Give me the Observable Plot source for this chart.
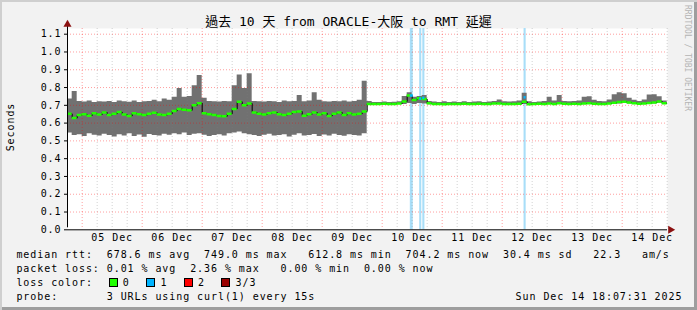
<!DOCTYPE html>
<html>
<head>
<meta charset="utf-8">
<script src="https://cdn.jsdelivr.net/npm/d3@7"></script>
<script src="https://cdn.jsdelivr.net/npm/@observablehq/plot@0.6"></script>
<style>
  html, body { margin: 0; padding: 0; background: #f2f2f2; }
  #chart {
    position: relative; width: 697px; height: 310px; overflow: hidden;
    background: #f2f2f2;
    box-shadow: inset 2px 2px 0 #cfcfcf, inset -3px -3px 0 #9e9e9e;
    font-family: "DejaVu Sans Mono", "Noto Sans CJK TC", monospace;
    color: #000;
  }
  #chart svg { position: absolute; left: 0; top: 0; }
  .txt { position: absolute; white-space: pre; font-size: 10px; letter-spacing: 0.93px; line-height: 14px; }
  #title { position: absolute; left: 0; top: 14px; width: 697px; text-align: center; font-size: 13px; line-height: 15px; white-space: pre; }
  #wm { position: absolute; left: 683px; top: 5px; writing-mode: vertical-rl; font-size: 8px; line-height: 9px; color: #b4b4b4; white-space: pre; }
  #ylab { position: absolute; left: 10px; top: 127px; transform: translate(-50%, -50%) rotate(-90deg); font-size: 10px; letter-spacing: 0.93px; white-space: pre; }
  .box { position: absolute; width: 7px; height: 7px; border: 1px solid #000; }
</style>
</head>
<body>
<div id="chart"></div>
<script>
// ---------- data ----------
const titleText = "過去 10 天 from ORACLE-大阪 to RMT 延遲";
const yAxisTitle = "Seconds";
const watermark = "RRDTOOL / TOBI OETIKER";
const rangeStart = "2025-12-04T18:07:31Z";
const rangeEnd = "2025-12-14T18:07:31Z";
const startTime = "2025-12-04T18:00:00Z";
const stepHours = 2;

// smoke upper edge (seconds), one value per 2-hour step
const smokeTop = [
  0.735, 0.778, 0.722, 0.718, 0.724, 0.716, 0.72, 0.718, 0.722, 0.716,
  0.724, 0.72, 0.717, 0.725, 0.716, 0.72, 0.722, 0.728, 0.72, 0.735,
  0.728, 0.745, 0.795, 0.745, 0.75, 0.81, 0.868, 0.74, 0.722, 0.72,
  0.718, 0.722, 0.72, 0.81, 0.87, 0.795, 0.877, 0.722, 0.72, 0.718,
  0.722, 0.72, 0.716, 0.725, 0.72, 0.722, 0.755, 0.72, 0.724, 0.77,
  0.728, 0.72, 0.718, 0.722, 0.72, 0.725, 0.718, 0.722, 0.728, 0.835,
  0.722, 0.716, 0.716, 0.718, 0.716, 0.717, 0.72, 0.75, 0.77, 0.745,
  0.75, 0.755, 0.722, 0.718, 0.716, 0.72, 0.716, 0.718, 0.716, 0.72,
  0.716, 0.718, 0.72, 0.716, 0.718, 0.722, 0.73, 0.72, 0.718, 0.72,
  0.725, 0.768, 0.72, 0.716, 0.718, 0.722, 0.746, 0.725, 0.755, 0.722,
  0.72, 0.722, 0.725, 0.745, 0.748, 0.728, 0.722, 0.72, 0.73, 0.76,
  0.77, 0.765, 0.74, 0.728, 0.722, 0.73, 0.758, 0.76, 0.748, 0.725
];
// smoke lower edge (seconds)
const smokeBottom = [
  0.545, 0.53, 0.535, 0.525, 0.54, 0.532, 0.528, 0.538, 0.53, 0.522,
  0.535, 0.528, 0.54, 0.525, 0.533, 0.52, 0.536, 0.53, 0.527, 0.538,
  0.532, 0.54, 0.535, 0.545, 0.53, 0.538, 0.54, 0.532, 0.525, 0.53,
  0.535, 0.528, 0.54, 0.545, 0.55, 0.54, 0.535, 0.53, 0.525, 0.532,
  0.538, 0.527, 0.53, 0.535, 0.522, 0.532, 0.54, 0.528, 0.53, 0.536,
  0.525, 0.533, 0.528, 0.537, 0.53, 0.526, 0.535, 0.53, 0.528, 0.54,
  0.70, 0.703, 0.703, 0.703, 0.703, 0.703, 0.704, 0.705, 0.71, 0.705,
  0.71, 0.708, 0.703, 0.703, 0.703, 0.701, 0.703, 0.703, 0.703, 0.703,
  0.703, 0.703, 0.703, 0.703, 0.703, 0.704, 0.704, 0.703, 0.703, 0.703,
  0.703, 0.705, 0.701, 0.703, 0.703, 0.703, 0.704, 0.703, 0.704, 0.703,
  0.703, 0.703, 0.703, 0.704, 0.704, 0.703, 0.703, 0.703, 0.704, 0.706,
  0.708, 0.71, 0.708, 0.705, 0.703, 0.704, 0.706, 0.708, 0.712, 0.705
];
// median rtt (seconds)
const median = [
  0.652, 0.628, 0.645, 0.65, 0.642, 0.655, 0.648, 0.66, 0.645, 0.652,
  0.662, 0.648, 0.64, 0.655, 0.65, 0.645, 0.652, 0.658, 0.648, 0.645,
  0.652, 0.668, 0.68, 0.675, 0.672, 0.70, 0.712, 0.655, 0.65, 0.645,
  0.64, 0.638, 0.652, 0.68, 0.72, 0.70, 0.71, 0.66, 0.652, 0.648,
  0.655, 0.66, 0.65, 0.645, 0.652, 0.662, 0.665, 0.642, 0.65, 0.66,
  0.648, 0.655, 0.64, 0.652, 0.66, 0.645, 0.655, 0.648, 0.652, 0.665,
  0.708, 0.708, 0.708, 0.709, 0.708, 0.708, 0.71, 0.722, 0.755, 0.73,
  0.74, 0.735, 0.712, 0.708, 0.708, 0.706, 0.708, 0.708, 0.708, 0.709,
  0.708, 0.708, 0.709, 0.708, 0.708, 0.71, 0.71, 0.708, 0.708, 0.708,
  0.709, 0.72, 0.706, 0.708, 0.709, 0.708, 0.71, 0.708, 0.711, 0.709,
  0.708, 0.709, 0.708, 0.71, 0.711, 0.709, 0.708, 0.708, 0.71, 0.714,
  0.718, 0.72, 0.716, 0.712, 0.709, 0.71, 0.713, 0.716, 0.722, 0.712
];
// packet-loss (1 of 3) intervals
const lossStart = ["2025-12-10T11:15:00Z", "2025-12-10T15:00:00Z", "2025-12-10T16:15:00Z", "2025-12-12T08:45:00Z"];
const lossEnd   = ["2025-12-10T12:25:00Z", "2025-12-10T15:50:00Z", "2025-12-10T17:05:00Z", "2025-12-12T09:35:00Z"];
const lossMedian = [0.755, 0.738, 0.742, 0.745];

const yTicks = [0, 0.1, 0.2, 0.3, 0.4, 0.5, 0.6, 0.7, 0.8, 0.9, 1.0, 1.1];
const yMax = 1.132;
const xTickTimes = ["2025-12-05T12:00:00Z", "2025-12-06T12:00:00Z", "2025-12-07T12:00:00Z", "2025-12-08T12:00:00Z", "2025-12-09T12:00:00Z",
                    "2025-12-10T12:00:00Z", "2025-12-11T12:00:00Z", "2025-12-12T12:00:00Z", "2025-12-13T12:00:00Z", "2025-12-14T12:00:00Z"];
const xTickLabels = ["05 Dec", "06 Dec", "07 Dec", "08 Dec", "09 Dec", "10 Dec", "11 Dec", "12 Dec", "13 Dec", "14 Dec"];

const legendRows = [
  "median rtt:  678.6 ms avg  749.0 ms max   612.8 ms min  704.2 ms now  30.4 ms sd   22.3   am/s",
  "packet loss: 0.01 % avg  2.36 % max   0.00 % min  0.00 % now",
  "loss color:",
  "probe:       3 URLs using curl(1) every 15s"
];
const lossLabels = ["0", "1", "2", "3/3"];
const lossColors = ["#20ff00", "#00b4ff", "#ff0000", "#9a0000"];
const dateStamp = "Sun Dec 14 18:07:31 2025";

// ---------- build ----------
const x0 = new Date(rangeStart), x1 = new Date(rangeEnd);
const stepMs = stepHours * 3600e3;
const tStart = +new Date(startTime);
const series = smokeTop.map((hi, i) => ({
  t0: new Date(tStart + i * stepMs), t1: new Date(tStart + (i + 1) * stepMs),
  hi, lo: smokeBottom[i], med: median[i]
}));
const last = series[series.length - 1];
const stepData = series.map(d => ({t: d.t0, med: d.med, lo: d.lo, hi: d.hi}))
  .concat([{t: last.t1, med: last.med, lo: last.lo, hi: last.hi}]);
const loss = lossStart.map((s, i) => ({start: new Date(s), end: new Date(lossEnd[i]), med: lossMedian[i]}));
const xTicks = xTickTimes.map(s => new Date(s));
const labelOf = new Map(xTicks.map((d, i) => [+d, xTickLabels[i]]));
const majorGrid = d3.utcDay.range(x0, x1);
const minorGrid = d3.utcHour.every(6).range(x0, x1).filter(d => d.getUTCHours() !== 0);

const H = 245;
const plot = Plot.plot({
  width: 697, height: H,
  marginLeft: 67, marginRight: 30, marginTop: 28, marginBottom: H - 229.3,
  style: {background: "transparent", fontFamily: "DejaVu Sans Mono", fontSize: "10px", letterSpacing: "0.93px", color: "#000", overflow: "visible"},
  x: {type: "utc", domain: [x0, x1]},
  y: {domain: [0, yMax]},
  marks: [
    Plot.frame({fill: "#fff", stroke: null}),
    Plot.rect(loss, {x1: "start", x2: "end", y1: 0, y2: yMax, fill: "#a8def8"}),
    Plot.areaY(stepData, {x: "t", y1: "lo", y2: "hi", curve: "step-after", fill: "#717171", clip: true}),
    Plot.ruleX(minorGrid, {stroke: "#808080", strokeOpacity: 0.35, strokeDasharray: "1,2"}),
    Plot.ruleX(majorGrid, {stroke: "#ff0000", strokeOpacity: 0.38, strokeDasharray: "1,2"}),
    Plot.ruleY(yTicks.filter(v => v > 0), {x1: x0, x2: x1, stroke: "#ff0000", strokeOpacity: 0.38, strokeDasharray: "1,2"}),
    Plot.line(stepData, {x: "t", y: "med", curve: "step-after", stroke: "#000", strokeWidth: 1, clip: true}),
    Plot.ruleY(series, {x1: "t0", x2: "t1", y: "med", stroke: "#20ff00", strokeWidth: 2.5, clip: true}),
    Plot.ruleY(loss, {x1: "start", x2: "end", y: "med", stroke: "#00b4ff", strokeWidth: 2.5}),
    Plot.axisY({ticks: yTicks, tickFormat: d3.format(".1f"), tickSize: 3, tickPadding: 3, label: null}),
    Plot.axisX({ticks: xTicks, tickFormat: d => labelOf.get(+d), tickSize: 0, tickPadding: 4, label: null}),
    Plot.ruleX([x0], {y1: 0, y2: yMax, stroke: "#000", dy: -2}),
    Plot.ruleY([0], {x1: x0, x2: x1, stroke: "#000"}),
    Plot.dot([x0], {x: d => d, y: yMax, symbol: "triangle", r: 3, fill: "#8b1010", stroke: null, dy: -4}),
    Plot.dot([x1], {x: d => d, y: 0, symbol: "triangle", r: 3, rotate: 90, fill: "#8b1010", stroke: null, dx: 3})
  ]
});

const chart = document.getElementById("chart");
chart.appendChild(plot);

function addDiv(cls, id, text, left, top) {
  const el = document.createElement("div");
  if (cls) el.className = cls;
  if (id) el.id = id;
  el.textContent = text;
  if (left != null) el.style.left = left + "px";
  if (top != null) el.style.top = top + "px";
  chart.appendChild(el);
  return el;
}
addDiv(null, "title", titleText);
addDiv(null, "wm", watermark);
addDiv(null, "ylab", yAxisTitle);
legendRows.forEach((r, i) => addDiv("txt", null, r, 16.4, 247.8 + i * 14));
lossLabels.forEach((lab, i) => {
  const b = addDiv("box", null, "", 108.5 + i * 37.6, 278.3);
  b.style.background = lossColors[i];
  addDiv("txt", null, lab, 122.8 + i * 37.6, 275.8);
});
addDiv("txt", null, dateStamp, 515.6, 289.8);
</script>
</body>
</html>
